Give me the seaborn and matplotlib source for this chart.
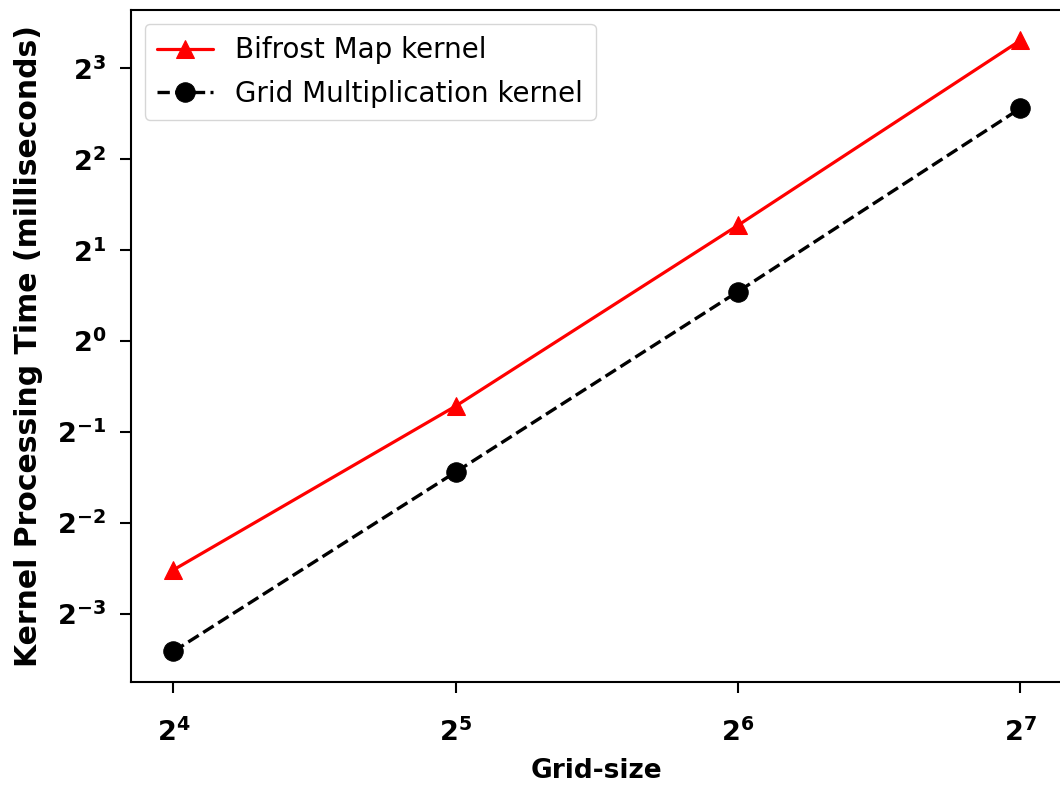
import matplotlib
matplotlib.use("Agg")
import matplotlib.pyplot as plt
import matplotlib.ticker as mticker
import numpy as np
import pandas as pd
import seaborn as sns

# Grid sizes and measured kernel times (ms)
grid_sizes = [16, 32, 64, 128]
bifrost_map_ms = [0.175, 0.61, 2.42, 9.9]
grid_mult_ms = [0.094, 0.369, 1.46, 5.9]

series_names = ["Bifrost Map kernel", "Grid Multiplication kernel"]

sns.set_style("white")
plt.rcParams["font.family"] = ["DejaVu Sans"]
plt.rcParams["mathtext.fontset"] = "dejavusans"
plt.rcParams["mathtext.default"] = "bf"
for key in ("text.color", "axes.labelcolor", "xtick.color", "ytick.color"):
    plt.rcParams[key] = "black"

df = pd.DataFrame({
    "grid": grid_sizes * 2,
    "time": bifrost_map_ms + grid_mult_ms,
    "kernel": [series_names[0]] * 4 + [series_names[1]] * 4,
})

fig = plt.figure(figsize=(10.6, 7.88), dpi=100)
ax = fig.add_axes([0.1236, 0.1345, 0.879, 0.853])

sns.lineplot(data=df[df.kernel == series_names[0]], x="grid", y="time",
             color="red", marker="^", markersize=13, linewidth=2.3,
             markeredgecolor="red", label=series_names[0], ax=ax)
sns.lineplot(data=df[df.kernel == series_names[1]], x="grid", y="time",
             color="black", marker="o", markersize=14, linewidth=2.4,
             linestyle="--", markeredgecolor="black",
             label=series_names[1], ax=ax)

ax.set_xscale("log", base=2)
ax.set_yscale("log", base=2)
ax.xaxis.set_minor_locator(mticker.NullLocator())
ax.yaxis.set_minor_locator(mticker.NullLocator())
ax.set_yticks([2.0 ** k for k in range(-3, 4)])
ax.set_xticks(grid_sizes)
ax.yaxis.set_major_formatter(mticker.LogFormatterSciNotation(base=2))
ax.xaxis.set_major_formatter(mticker.LogFormatterSciNotation(base=2))
ax.margins(x=0.05, y=0.05)

ax.tick_params(axis="both", which="major", direction="out", length=8,
               width=1.5, labelsize=19.5, left=True, bottom=True)
ax.tick_params(axis="x", pad=18)
ax.tick_params(axis="y", pad=10)
for lbl in ax.get_xticklabels() + ax.get_yticklabels():
    lbl.set_fontweight("bold")

ax.set_xlabel("Grid-size", fontsize=19, fontweight="bold", labelpad=8)
ax.set_ylabel("Kernel Processing Time (milliseconds)", fontsize=21.5,
              fontweight="bold", labelpad=10)

for side in ax.spines.values():
    side.set_color("black")
    side.set_linewidth(1.5)

leg = ax.legend(loc="upper left", fontsize=20, frameon=True, fancybox=True,
                framealpha=0.8, borderpad=0.45, labelspacing=0.55,
                handlelength=2.0, borderaxespad=0.5)
leg.get_frame().set_edgecolor("#cccccc")

fig.savefig("out.png", dpi=100)
